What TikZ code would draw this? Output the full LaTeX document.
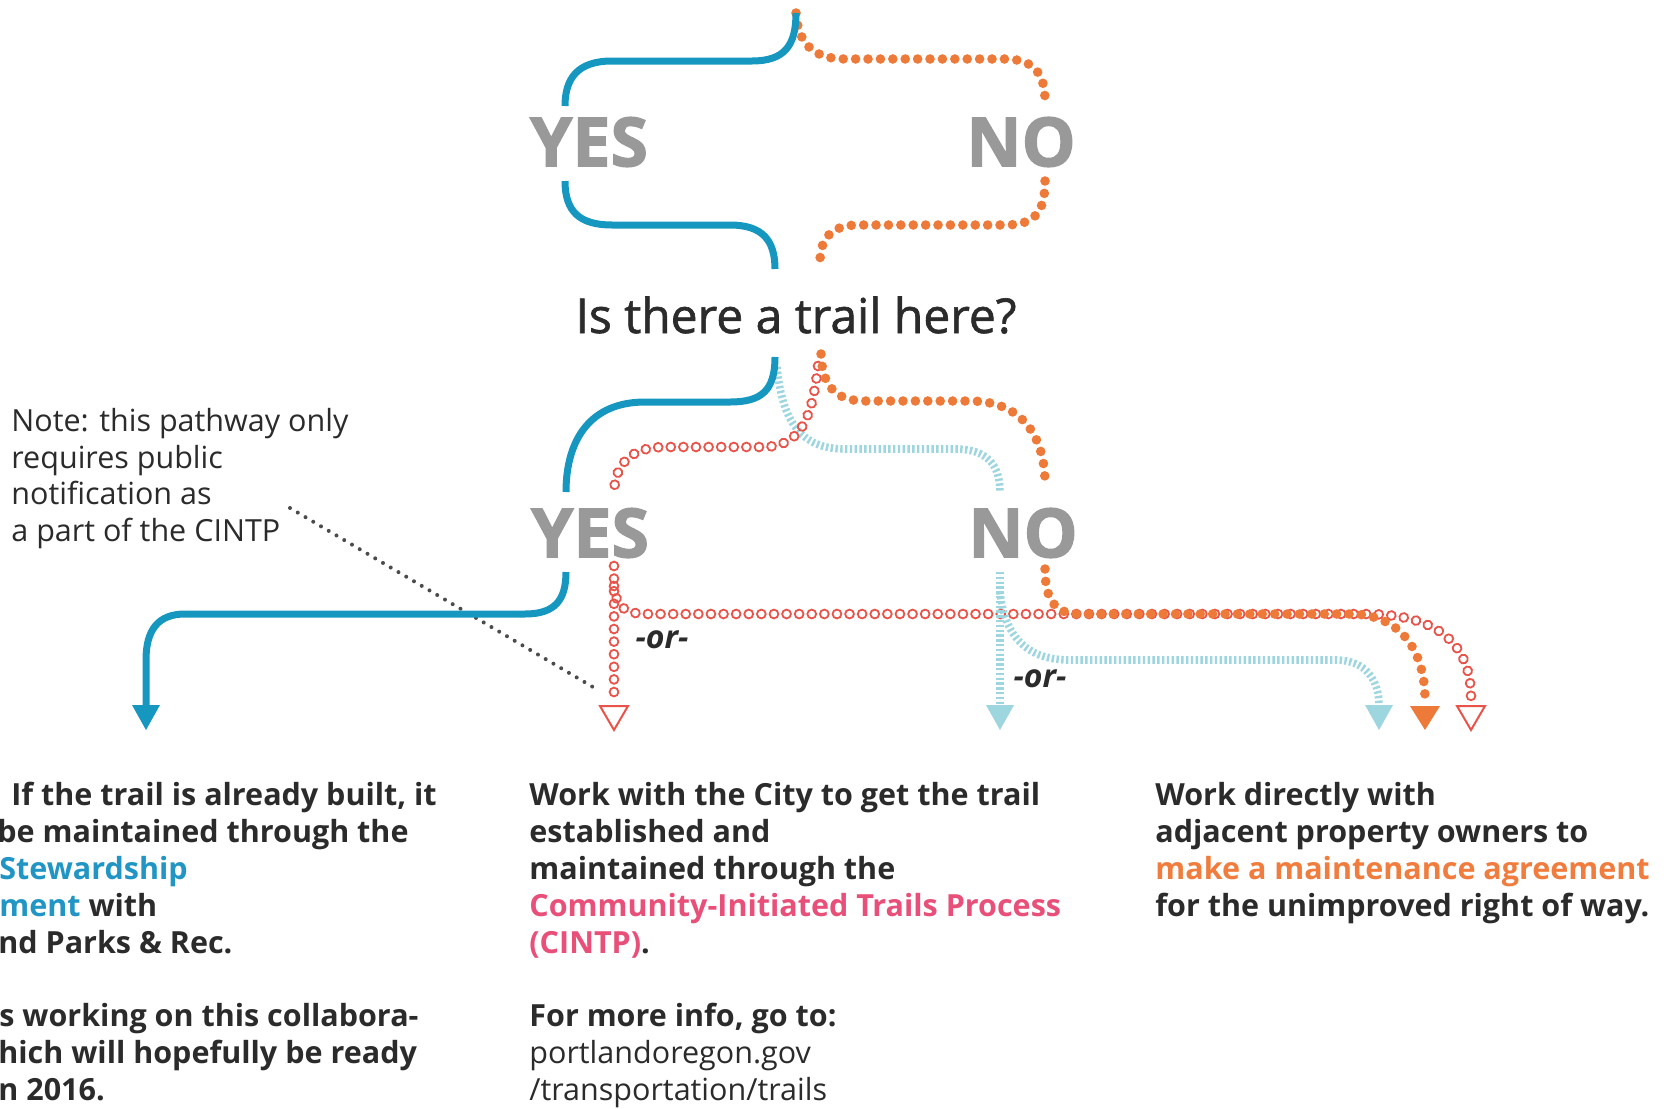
\documentclass[tikz,border=0pt]{standalone}
\usepackage{fontspec}
\setmainfont{Open Sans}
\newfontfamily\qfont[FakeBold=1.3]{Open Sans}
\newfontfamily\heavyfont[FakeBold=1.8]{Open Sans}
\usetikzlibrary{decorations.markings}
\definecolor{cblue}{HTML}{1597BF}
\definecolor{corange}{HTML}{EE7A3A}
\definecolor{cred}{HTML}{E8544A}
\definecolor{clight}{HTML}{9ED6E0}
\definecolor{cgray}{HTML}{999999}
\definecolor{cdark}{HTML}{2B2B2B}
\definecolor{cpink}{HTML}{E8507A}
\definecolor{ctxtorange}{HTML}{F07D3E}
\definecolor{ctxtblue}{HTML}{2196C4}
\begin{document}
\begin{tikzpicture}[x=0.5pt,y=-0.5pt,
  bluepath/.style={draw=cblue,line width=3.5pt},
  orangedots/.style={draw=corange,line width=4.8pt,line cap=round,dash pattern=on 0pt off 6.2pt},
  opencircles/.style={decorate,decoration={markings,
     mark=between positions 0 and 1 step 6.3pt with {\draw[cred,line width=0.9pt] (0,0) circle (2.2pt);}}},
  lightdash/.style={draw=clight,line width=3.8pt,dash pattern=on 1.2pt off 1.2pt},
  notedots/.style={draw=cdark!85,line width=2pt,line cap=round,dash pattern=on 0pt off 4.5pt},
  yesno/.style={font=\heavyfont\fontsize{34pt}{40pt}\selectfont\bfseries,text=cgray,inner sep=0pt},
  body/.style={font=\fontsize{15.25pt}{18.4pt}\selectfont\bfseries,text=cdark,inner sep=0pt,anchor=base west},
  bodyreg/.style={font=\fontsize{15.25pt}{18.4pt}\selectfont,text=cdark,inner sep=0pt,anchor=base west},
  orlabel/.style={font=\fontsize{16pt}{19pt}\selectfont\bfseries\itshape,text=cdark,inner sep=0pt},
  bluetip/.style={fill=cblue},
  orangetip/.style={fill=corange},
  lighttip/.style={fill=clight},
  opentip/.style={draw=cred,line width=1pt,fill=white}
]
\useasboundingbox (0,0) rectangle (1669,1108);
\fill[white] (0,0) rectangle (1669,1108);

% ---------- nodes ----------
\node[yesno] (yes1) at (589,142) {YES};
\node[yesno] (no1) at (1021,142) {NO};
\node[font=\qfont\fontsize{24pt}{28pt}\selectfont,text=cdark,inner sep=0pt,anchor=base] (q) at (796,333) {Is there a trail here?};
\node[yesno] (yes2) at (590,533) {YES};
\node[yesno] (no2) at (1023,533) {NO};
\node[orlabel] (or1) at (662,640) {-or-};
\node[orlabel] (or2) at (1040,679) {-or-};

% note
\node[bodyreg] (n1) at (11,431) {Note: this pathway only};
\node[bodyreg] (n2) at (11,468) {requires public};
\node[bodyreg] (n3) at (11,504) {notification as};
\node[bodyreg] (n4) at (11,541) {a part of the CINTP};

% ---------- coordinates ----------
\coordinate (top) at (796,13);
\coordinate (b1s) at (565,106);
\coordinate (b1r) at (565,181);
\coordinate (b1e) at (775,269);
\coordinate (o1s) at (1045,101);
\coordinate (o1r) at (1045,181);
\coordinate (o1e) at (820,262);
\coordinate (b2s) at (775,357);
\coordinate (b2e) at (566,492);
\coordinate (o2s) at (821,354);
\coordinate (o2e) at (1045,484);
\coordinate (r2s) at (818,366);
\coordinate (r2e) at (614,495);
\coordinate (l2s) at (777,367);
\coordinate (l2e) at (1000,492);
\coordinate (b3s) at (566,572);
\coordinate (tipA) at (146,706);
\coordinate (r3s) at (614,566);
\coordinate (tipB) at (614,706);
\coordinate (r3b) at (614,586);
\coordinate (tipF) at (1471,706);
\coordinate (o3s) at (1045,569);
\coordinate (tipE) at (1425,706);
\coordinate (l3s) at (1000,572);
\coordinate (tipC) at (1000,706);
\coordinate (l3b) at (1000,592);
\coordinate (tipD) at (1379,706);
\coordinate (nd1) at (290,508);
\coordinate (nd2) at (598,690);

% ---------- top connectors ----------
\draw[orangedots] (top) .. controls (798,45) and (815,59) .. (845,59) -- (1005,59) .. controls (1035,59) and (1045,75) .. (o1s);
\draw[orangedots] (o1r) .. controls (1045,212) and (1035,225) .. (1005,225) -- (858,225) .. controls (830,225) and (820,240) .. (o1e);
\draw[bluepath] (top) .. controls (796,45) and (785,61) .. (752,61) -- (612,61) .. controls (578,61) and (565,78) .. (b1s);
\draw[bluepath] (b1r) .. controls (565,212) and (580,225) .. (612,225) -- (730,225) .. controls (762,225) and (775,240) .. (b1e);

% ---------- middle connectors ----------
\draw[lightdash] (l2s) .. controls (782,420) and (800,449) .. (845,449) -- (955,449) .. controls (987,449) and (1000,465) .. (l2e);
\path[opencircles] (r2s) .. controls (812,420) and (800,447) .. (762,447) -- (665,447) .. controls (630,447) and (614,465) .. (r2e);
\draw[orangedots] (o2s) .. controls (822,385) and (835,401) .. (865,401) -- (970,401) .. controls (1025,401) and (1045,440) .. (o2e);
\draw[bluepath] (b2s) .. controls (775,390) and (762,402) .. (730,402) -- (645,402) .. controls (590,402) and (566,440) .. (b2e);

% ---------- bottom connectors ----------
\draw[notedots] (nd1) -- (nd2);
\draw[bluepath] (b3s) .. controls (566,600) and (555,614) .. (525,614) -- (185,614) .. controls (158,614) and (146,630) .. (146,660) -- (tipA);
\fill[bluetip] (tipA) ++(-14,-1) -- ++(28,0) -- ++(-14,25) -- cycle;

\path[opencircles] (r3s) -- (614,700);
\path[opencircles] (r3b) .. controls (616,607) and (625,614) .. (648,614) -- (1365,614) .. controls (1445,614) and (1471,650) .. (1471,698);
\draw[orangedots] (o3s) .. controls (1045,600) and (1055,614) .. (1080,614) -- (1350,614) .. controls (1400,614) and (1425,650) .. (1425,700);
\draw[lightdash] (l3s) -- (tipC);
\draw[lightdash] (l3b) .. controls (1005,640) and (1030,660) .. (1070,660) -- (1335,660) .. controls (1366,660) and (1379,680) .. (tipD);

\draw[opentip] (tipB) ++(-14,0) -- ++(28,0) -- ++(-14,24) -- cycle;
\draw[opentip] (tipF) ++(-14,0) -- ++(28,0) -- ++(-14,24) -- cycle;
\fill[orangetip] (tipE) ++(-15,0) -- ++(30,0) -- ++(-15,24) -- cycle;
\fill[lighttip] (tipC) ++(-14,-1) -- ++(28,0) -- ++(-14,25) -- cycle;
\fill[lighttip] (tipD) ++(-14,-1) -- ++(28,0) -- ++(-14,25) -- cycle;

% ---------- bottom texts ----------
\node[body] (a1) at (11,805) {If the trail is already built, it};
\node[body] (a2) at (-3,842) {be maintained through the};
\node[body] (a3) at (-1,879) {\textcolor{ctxtblue}{Stewardship}};
\node[body] (a4) at (-1,916) {\textcolor{ctxtblue}{ment} with};
\node[body] (a5) at (-2,953) {nd Parks \& Rec.};
\node[body] (a6) at (-1,1026) {s working on this collabora-};
\node[body] (a7) at (-2,1063) {hich will hopefully be ready};
\node[body] (a8) at (-2,1100) {n 2016.};

\node[body] (m1) at (529,805) {Work with the City to get the trail};
\node[body] (m2) at (529,842) {established and};
\node[body] (m3) at (529,879) {maintained through the};
\node[body] (m4) at (529,916) {\textcolor{cpink}{Community-Initiated Trails Process}};
\node[body] (m5) at (529,953) {\textcolor{cpink}{(CINTP)}.};
\node[body] (m6) at (529,1026) {For more info, go to:};
\node[bodyreg] (m7) at (529,1063) {portlandoregon.gov};
\node[bodyreg] (m8) at (529,1100) {/transportation/trails};

\node[body] (r1) at (1155,805) {Work directly with};
\node[body] (r2) at (1155,842) {adjacent property owners to};
\node[body] (r3) at (1155,879) {\textcolor{ctxtorange}{make a maintenance agreement}};
\node[body] (r4) at (1155,916) {for the unimproved right of way.};
\end{tikzpicture}
\end{document}
